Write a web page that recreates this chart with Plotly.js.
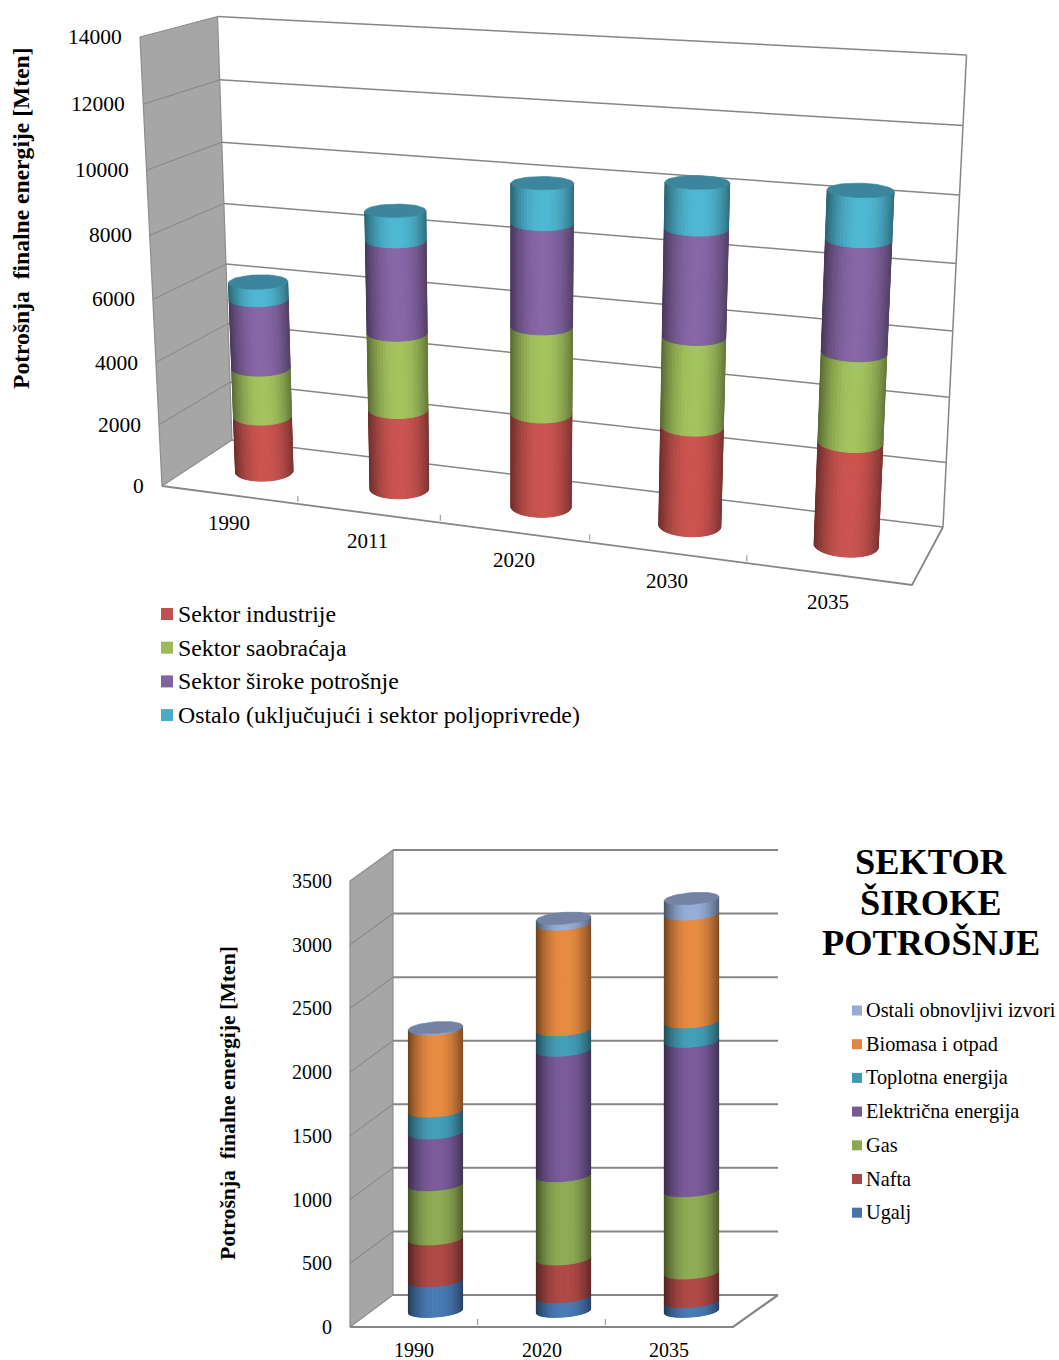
<!DOCTYPE html>
<html><head><meta charset="utf-8">
<script src="https://cdn.plot.ly/plotly-3.0.1.min.js"></script>
<style>html,body{margin:0;padding:0;background:#fff}#chart{width:1059px;height:1360px}</style>
</head><body><div id="chart"></div>
<script>
// ---------- chart 1 data (Mten) ----------
const godine1 = ['1990','2011','2020','2030','2035'];
const sektorIndustrije = [1843,2579,2963,3090,3142];
const sektorSaobracaja = [1591,2438,2708,2726,2668];
const sektorSirokePotrosnje = [2222,2885,3136,3213,3275];
const sektorOstalo = [547,923,1206,1347,1410];
const imena1 = ['Sektor industrije','Sektor saobraćaja','Sektor široke potrošnje','Ostalo (uključujući i sektor poljoprivrede)'];
const tickovi1 = [0,2000,4000,6000,8000,10000,12000,14000];
// ---------- chart 2 data (Mten) ----------
const godine2 = ['1990','2020','2035'];
const ugalj = [242,116,77];
const nafta = [327,296,225];
const gas = [426,654,646];
const elektricna = [406,985,1173];
const toplotna = [172,161,153];
const biomasa = [644,829,846];
const ostaliObnovljivi = [8,44,120];
const imena2 = ['Ugalj','Nafta','Gas','Električna energija','Toplotna energija','Biomasa i otpad','Ostali obnovljivi izvori'];
const tickovi2 = [0,500,1000,1500,2000,2500,3000,3500];
const naslov2 = ['SEKTOR','ŠIROKE','POTROŠNJE'];
const yNaslov = 'Potrošnja  finalne energije [Mten]';
// ---------- styles ----------
const FONT = '"Liberation Serif","Times New Roman",serif';
const boje1 = ['#cb5450','#a4c45e','#8767a7','#4fb8d3'];
const legBoje1 = ['#c0504d','#9bbb59','#8064a2','#4bacc6'];
const boje2 = ['#4a7bb5','#b04a47','#8fad53','#7a5c9b','#449fb8','#e88c40','#97aed8'];
const legBoje2 = ['#4674a8','#ab4744','#8aa84e','#765a97','#3f9bb1','#e0853d','#95abd3'];
const N = 26;

const traces = [], annotations = [];

function shade(hex, f){
  const n = parseInt(hex.slice(1),16);
  const c = [n>>16,(n>>8)&255,n&255].map(v=>Math.round(v*f));
  return 'rgb('+c.join(',')+')';
}
function makeProj(g){
  const lerp=(a,b,t)=>[a[0]+(b[0]-a[0])*t,a[1]+(b[1]-a[1])*t];
  return function(u,d,z){ // u already warped, d depth 0 front..1 back, z value
    const v=z/g.zMax, t=v/(1+g.k*(1-v));
    const f0=lerp(g.fb0,g.fb1,u), f1=lerp(g.ft0,g.ft1,u), b0=lerp(g.bb0,g.bb1,u), b1=lerp(g.bt0,g.bt1,u);
    const fr=lerp(f0,f1,t), bk=lerp(b0,b1,t);
    return lerp(fr,bk,d);
  };
}
function addLines(segs,color,width){
  const x=[],y=[];
  segs.forEach(s=>{s.forEach(p=>{x.push(p[0]);y.push(p[1]);});x.push(null);y.push(null);});
  traces.push({type:'scatter',mode:'lines',x,y,line:{color,width},hoverinfo:'skip',showlegend:false});
}
function addFill(x,y,color,w){
  traces.push({type:'scatter',mode:'lines',x,y,fill:'toself',fillcolor:color,
    line:{color,width:w===undefined?1:w},hoverinfo:'skip',showlegend:false});
}
function text(t,x,y,size,o){
  annotations.push(Object.assign({text:t,x,y,xref:'x',yref:'y',showarrow:false,xanchor:'center',yanchor:'middle',
    font:{family:FONT,size,color:'#000'}},o||{}));
}
function warpU(u,c){return u/(1+c*(1-u));}

function drawChart(g){
  const P=makeProj(g), zM=g.zMax;
  // left wall
  const wall=[P(0,0,0),P(0,0,zM),P(0,1,zM),P(0,1,0),P(0,0,0)];
  addFill(wall.map(p=>p[0]),wall.map(p=>p[1]),'#a6a6a6',0);
  // side wall gridlines and edges
  const side=g.ticks.map(z=>[P(0,1,z),P(0,0,z)]);
  side.push([P(0,0,0),P(0,0,zM)]); side.push([P(0,1,0),P(0,1,zM)]);
  addLines(side,'#8c8c8c',g.sideW);
  // back wall gridlines
  const back=g.ticks.map(z=>[P(0,1,z),P(1,1,z)]);
  if(g.backRight) back.push([P(1,1,0),P(1,1,zM)]);
  addLines(back,'#868686',g.gridW);
  // floor edges and category ticks
  const floor=[[P(0,0,0),P(1,0,0),P(1,1,0)]];
  addLines(floor,'#868686',g.floorW);
  const tk=[]; const nc=g.cats.length;
  for(let i=1;i<nc;i++){const p=P(warpU(i/nc,g.c),0,0);tk.push([[p[0],p[1]-2],[p[0],p[1]-g.tickLen]]);}
  addLines(tk,'#8c8c8c',1);
  // bars
  const center=i=>{const c=warpU((i+0.5)/nc,g.c);return c+g.barShift*(1-c);};
  const pts=g.series.map(()=>Array.from({length:N},()=>({x:[],y:[]})));
  g.cats.forEach((cat,i)=>{
    const cu=center(i), ru=g.ru(cu), rd=g.rd;
    const total=g.series.reduce((s,a)=>s+a[i],0);
    const at=(t,z)=>P(cu+ru*Math.cos(t),0.5+rd*Math.sin(t),z);
    // silhouette angles of the visible (front) half
    let tMin=Math.PI,tMax=2*Math.PI,xn=1e9,xm=-1e9;
    for(let a=0;a<=720;a++){
      const t=Math.PI*0.5+a/720*2*Math.PI, x=at(t,total/2)[0];
      if(x<xn){xn=x;tMin=t;} if(x>xm){xm=x;tMax=t;}
    }
    if(tMax<tMin) tMax+=2*Math.PI;
    let base=0;
    g.series.forEach((arr,s)=>{
      const z0=base,z1=base+arr[i];
      for(let k=0;k<N;k++){
        const a=tMin+(tMax-tMin)*k/N,b=tMin+(tMax-tMin)*(k+1)/N;
        const q=[at(a,z0),at(b,z0),at(b,z1),at(a,z1),at(a,z0)];
        q.forEach(p=>{pts[s][k].x.push(p[0]);pts[s][k].y.push(p[1]);});
        pts[s][k].x.push(null);pts[s][k].y.push(null);
      }
      base=z1;
    });
  });
  g.series.forEach((arr,s)=>{
    for(let k=0;k<N;k++){
      const xn=Math.cos(Math.PI-Math.PI*(k+0.5)/N); // -1..1 across the bar
      const f=1-g.dark*Math.pow(Math.abs(xn-0.05),2.2);
      addFill(pts[s][k].x,pts[s][k].y,shade(g.colors[s],f));
    }
  });
  // caps
  const cx=[],cy=[];
  g.cats.forEach((cat,i)=>{
    const cu=center(i), ru=g.ru(cu);
    const total=g.series.reduce((s,a)=>s+a[i],0);
    for(let a=0;a<=48;a++){
      const t=a/48*2*Math.PI, p=P(cu+ru*Math.cos(t),0.5+g.rd*Math.sin(t),total);
      cx.push(p[0]);cy.push(p[1]);
    }
    cx.push(null);cy.push(null);
  });
  addFill(cx,cy,g.capColor,0.7);
  // tick labels
  g.ticks.forEach(z=>{const p=P(0,0,z);text(String(z),p[0]-g.tickDx,p[1]+g.tickDy,g.tickSize,{xanchor:'right'});});
  g.cats.forEach((cat,i)=>{
    const p=P(warpU((i+0.5)/nc,g.c),0,0);
    text(cat,p[0]+g.catDx,p[1]+g.catDy,g.catSize);
  });
  text(yNaslov,g.titleX,g.titleY,g.titleSize,{textangle:-90,font:{family:FONT,size:g.titleSize,color:'#000',weight:'bold'}});
  // legend
  const lx=[],ly=[],lc=[];
  g.legend.forEach((l,i)=>{
    lx.push(g.legX);ly.push(g.legY0+i*g.legStep);lc.push(l.color);
    text(l.name,g.legTextX,g.legY0+i*g.legStep,g.legSize,{xanchor:'left'});
  });
  traces.push({type:'scatter',mode:'markers',x:lx,y:ly,marker:{symbol:'square',size:g.legMark,color:lc},hoverinfo:'skip',showlegend:false});
}

const series1=[sektorIndustrije,sektorSaobracaja,sektorSirokePotrosnje,sektorOstalo];
drawChart({
  zMax:14000,k:0.055,c:0.13,barShift:0.003,ticks:tickovi1,cats:godine1,series:series1,colors:boje1,
  fb0:[162,486],fb1:[912,585],ft0:[140,37],ft1:[937,85],
  bb0:[232,440],bb1:[943,527],bt0:[217.5,16.5],bt1:[966.5,55],
  ru:u=>0.0345+0.0095*u,rd:0.19,dark:0.42,capColor:'#3b869d',
  sideW:1.2,gridW:1.5,floorW:1.8,tickLen:8,backRight:true,
  tickSize:21.5,tickDx:16,tickDy:0,catDx:-0.5,catDy:28,catSize:21,
  titleX:21,titleY:218,titleSize:23.6,
  legend:imena1.map((n,i)=>({name:n,color:legBoje1[i]})),
  legX:167,legY0:614,legStep:33.7,legMark:12,legTextX:176,legSize:23.8
});
const series2=[ugalj,nafta,gas,elektricna,toplotna,biomasa,ostaliObnovljivi];
drawChart({
  zMax:3500,k:0,c:0,barShift:0,ticks:tickovi2,cats:godine2,series:series2,colors:boje2,
  fb0:[350,1327],fb1:[733,1327],ft0:[350,881],ft1:[733,881],
  bb0:[393,1295],bb1:[778,1295],bt0:[393,850],bt1:[778,850],
  ru:u=>0.0668,rd:0.2,dark:0.48,capColor:'#7283a3',
  sideW:1.2,gridW:2,floorW:2.2,tickLen:8,backRight:false,
  tickSize:20,tickDx:16,tickDy:0,catDx:0,catDy:23,catSize:20,
  titleX:228,titleY:1103,titleSize:21.7,
  legend:imena2.map((n,i)=>({name:n,color:legBoje2[i]})).reverse(),
  legX:857,legY0:1010.5,legStep:33.7,legMark:10,legTextX:864,legSize:20.3
});
naslov2.forEach((t,i)=>{
  annotations.push({text:t,x:931,y:862+i*40.5,xref:'x',yref:'y',showarrow:false,xanchor:'center',yanchor:'middle',
    font:{family:FONT,size:36.4,color:'#000',weight:'bold'}});
});

Plotly.newPlot('chart',traces,{
  width:1059,height:1360,autosize:false,
  margin:{l:0,r:0,t:0,b:0},
  paper_bgcolor:'#fff',plot_bgcolor:'#fff',showlegend:false,
  xaxis:{range:[0,1059],visible:false,fixedrange:true},
  yaxis:{range:[1360,0],visible:false,fixedrange:true},
  annotations
},{displayModeBar:false,staticPlot:true});
</script></body></html>
